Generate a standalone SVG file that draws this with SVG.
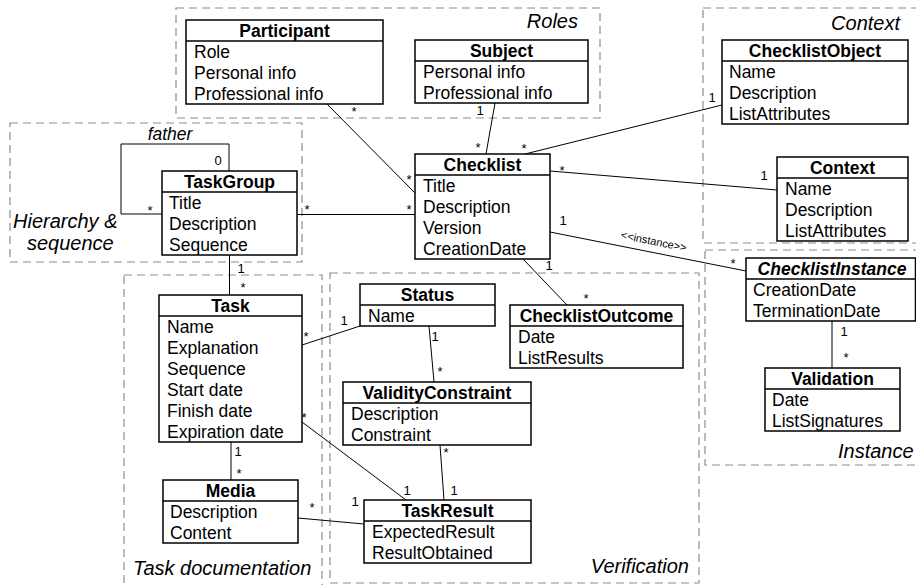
<svg xmlns="http://www.w3.org/2000/svg" width="916" height="585" viewBox="0 0 916 585">
<style>
.bg{fill:#fff}
.frame{fill:none;stroke:#8c8c8c;stroke-width:1.2;stroke-dasharray:8 5}
.gl{font-family:"Liberation Sans",Arial,sans-serif;font-size:20px;font-style:italic;fill:#000}
.box{fill:#fff;stroke:#000;stroke-width:1.5}
.hd{stroke:#000;stroke-width:1.5}
.tt{font-family:"Liberation Sans",Arial,sans-serif;font-size:17.5px;font-weight:bold;text-anchor:middle;fill:#000}
.at{font-family:"Liberation Sans",Arial,sans-serif;font-size:17.5px;fill:#000}
.c{fill:none;stroke:#000;stroke-width:1}
.m{font-family:"Liberation Sans",Arial,sans-serif;font-size:13px;text-anchor:middle;fill:#000}
.st{font-family:"Liberation Sans",Arial,sans-serif;font-size:11px;text-anchor:middle;fill:#000}
.fa{font-family:"Liberation Sans",Arial,sans-serif;font-size:17.5px;font-style:italic;text-anchor:middle;fill:#000}
</style>
<rect class="bg" x="0" y="0" width="916" height="585"/>

<g id="regions">
  <rect class="frame" x="176" y="8" width="424" height="110"/>
  <text class="gl" x="578" y="28" text-anchor="end">Roles</text>
  <rect class="frame" x="703" y="8" width="225" height="235"/>
  <text class="gl" x="900" y="30" text-anchor="end">Context</text>
  <rect class="frame" x="10" y="123" width="292" height="139"/>
  <text class="gl" x="13" y="228">Hierarchy &amp;</text>
  <text class="gl" x="27" y="250">sequence</text>
  <rect class="frame" x="705" y="250" width="225" height="215"/>
  <text class="gl" x="838" y="458">Instance</text>
  <rect class="frame" x="124" y="275" width="198" height="320"/>
  <text class="gl" x="133" y="575">Task documentation</text>
  <rect class="frame" x="330" y="273" width="369" height="310"/>
  <text class="gl" x="689" y="573" text-anchor="end">Verification</text>
</g>

<g id="connectors">
  <polyline class="c" points="229,171 229,144 121,144 121,214 162,214"/>
  <text class="fa" x="170" y="140">father</text>
  <text class="m" x="218" y="165">0</text>
  <text class="m" x="150" y="215">*</text>

  <line class="c" x1="297" y1="214.5" x2="415" y2="214.5"/>
  <text class="m" x="307" y="214">*</text>
  <text class="m" x="409" y="214">*</text>

  <line class="c" x1="327" y1="104" x2="415" y2="193"/>
  <text class="m" x="354" y="116">*</text>
  <text class="m" x="409" y="184">*</text>

  <line class="c" x1="495" y1="103" x2="486" y2="154"/>
  <text class="m" x="480" y="115">1</text>
  <text class="m" x="478" y="152">*</text>

  <line class="c" x1="525" y1="154" x2="722" y2="105"/>
  <text class="m" x="524" y="153">*</text>
  <text class="m" x="712" y="102">1</text>

  <line class="c" x1="550" y1="171" x2="777" y2="190"/>
  <text class="m" x="562" y="175">*</text>
  <text class="m" x="764" y="180">1</text>

  <line class="c" x1="550" y1="232" x2="746" y2="271"/>
  <text class="m" x="563" y="225">1</text>
  <text class="m" x="733" y="268">*</text>
  <text class="st" transform="translate(653,245) rotate(11.5)">&lt;&lt;instance&gt;&gt;</text>

  <line class="c" x1="523" y1="259" x2="567" y2="305"/>
  <text class="m" x="549" y="270">1</text>
  <text class="m" x="586" y="303">*</text>

  <line class="c" x1="229.5" y1="255" x2="229.5" y2="295"/>
  <text class="m" x="241" y="273">1</text>
  <text class="m" x="243" y="292">*</text>

  <line class="c" x1="231" y1="442" x2="231" y2="480"/>
  <text class="m" x="238" y="456">1</text>
  <text class="m" x="239" y="478">*</text>

  <line class="c" x1="302" y1="345" x2="360" y2="326"/>
  <text class="m" x="306" y="341">*</text>
  <text class="m" x="344" y="325">1</text>

  <line class="c" x1="302" y1="422" x2="406" y2="500"/>
  <text class="m" x="304" y="422">*</text>
  <text class="m" x="407" y="495">1</text>

  <line class="c" x1="429" y1="326" x2="434" y2="382"/>
  <text class="m" x="435" y="341">1</text>
  <text class="m" x="440" y="376">*</text>

  <line class="c" x1="440" y1="445" x2="444" y2="500"/>
  <text class="m" x="446" y="457">*</text>
  <text class="m" x="454" y="495">1</text>

  <line class="c" x1="298" y1="518" x2="364" y2="524"/>
  <text class="m" x="312" y="512">*</text>
  <text class="m" x="355" y="506">1</text>

  <line class="c" x1="832" y1="321" x2="832" y2="368"/>
  <text class="m" x="844" y="336">1</text>
  <text class="m" x="846" y="362">*</text>
</g>

<g id="participant">
  <rect class="box" x="186" y="20" width="197" height="84"/>
  <line class="hd" x1="186" y1="41" x2="383" y2="41"/>
  <text class="tt" x="284.5" y="36.5">Participant</text>
  <text class="at" x="194" y="58">Role</text>
  <text class="at" x="194" y="79">Personal info</text>
  <text class="at" x="194" y="100">Professional info</text>
</g>

<g id="subject">
  <rect class="box" x="415" y="40" width="173" height="63"/>
  <line class="hd" x1="415" y1="61" x2="588" y2="61"/>
  <text class="tt" x="501.5" y="56.5">Subject</text>
  <text class="at" x="423" y="77.5">Personal info</text>
  <text class="at" x="423" y="98.5">Professional info</text>
</g>

<g id="checklistobject">
  <rect class="box" x="722" y="40" width="186" height="84"/>
  <line class="hd" x1="722" y1="61" x2="908" y2="61"/>
  <text class="tt" x="815" y="56.5">ChecklistObject</text>
  <text class="at" x="729" y="77.5">Name</text>
  <text class="at" x="729" y="98.5">Description</text>
  <text class="at" x="729" y="119.5">ListAttributes</text>
</g>

<g id="checklist">
  <rect class="box" x="415" y="154" width="135" height="105"/>
  <line class="hd" x1="415" y1="175" x2="550" y2="175"/>
  <text class="tt" x="482.5" y="170.5">Checklist</text>
  <text class="at" x="423" y="191.5">Title</text>
  <text class="at" x="423" y="212.5">Description</text>
  <text class="at" x="423" y="233.5">Version</text>
  <text class="at" x="423" y="254.5">CreationDate</text>
</g>

<g id="context">
  <rect class="box" x="777" y="157" width="131" height="84"/>
  <line class="hd" x1="777" y1="178" x2="908" y2="178"/>
  <text class="tt" x="842.5" y="173.5">Context</text>
  <text class="at" x="785" y="194.5">Name</text>
  <text class="at" x="785" y="215.5">Description</text>
  <text class="at" x="785" y="236.5">ListAttributes</text>
</g>

<g id="taskgroup">
  <rect class="box" x="162" y="171" width="135" height="84"/>
  <line class="hd" x1="162" y1="192" x2="297" y2="192"/>
  <text class="tt" x="229.5" y="187.5">TaskGroup</text>
  <text class="at" x="169" y="208.5">Title</text>
  <text class="at" x="169" y="229.5">Description</text>
  <text class="at" x="169" y="250.5">Sequence</text>
</g>

<g id="checklistinstance">
  <rect class="box" x="746" y="258" width="169.5" height="63"/>
  <line class="hd" x1="746" y1="279" x2="915.5" y2="279"/>
  <text class="tt" x="832" y="274.5" font-style="italic">ChecklistInstance</text>
  <text class="at" x="753" y="295.5">CreationDate</text>
  <text class="at" x="753" y="316.5">TerminationDate</text>
</g>

<g id="status">
  <rect class="box" x="360" y="284" width="135" height="42"/>
  <line class="hd" x1="360" y1="305" x2="495" y2="305"/>
  <text class="tt" x="427.5" y="300.5">Status</text>
  <text class="at" x="368" y="321.5">Name</text>
</g>

<g id="task">
  <rect class="box" x="159" y="295" width="143" height="147"/>
  <line class="hd" x1="159" y1="316" x2="302" y2="316"/>
  <text class="tt" x="230.5" y="311.5">Task</text>
  <text class="at" x="167" y="332.5">Name</text>
  <text class="at" x="167" y="353.5">Explanation</text>
  <text class="at" x="167" y="374.5">Sequence</text>
  <text class="at" x="167" y="395.5">Start date</text>
  <text class="at" x="167" y="416.5">Finish date</text>
  <text class="at" x="167" y="437.5">Expiration date</text>
</g>

<g id="checklistoutcome">
  <rect class="box" x="510" y="305" width="173" height="63"/>
  <line class="hd" x1="510" y1="326" x2="683" y2="326"/>
  <text class="tt" x="596.5" y="321.5">ChecklistOutcome</text>
  <text class="at" x="518" y="342.5">Date</text>
  <text class="at" x="518" y="363.5">ListResults</text>
</g>

<g id="validation">
  <rect class="box" x="765" y="368" width="135" height="63"/>
  <line class="hd" x1="765" y1="389" x2="900" y2="389"/>
  <text class="tt" x="832.5" y="384.5">Validation</text>
  <text class="at" x="772" y="405.5">Date</text>
  <text class="at" x="772" y="426.5">ListSignatures</text>
</g>

<g id="validityconstraint">
  <rect class="box" x="343" y="382" width="188" height="63"/>
  <line class="hd" x1="343" y1="403" x2="531" y2="403"/>
  <text class="tt" x="437" y="398.5">ValidityConstraint</text>
  <text class="at" x="351" y="419.5">Description</text>
  <text class="at" x="351" y="440.5">Constraint</text>
</g>

<g id="media">
  <rect class="box" x="163" y="480" width="135" height="63"/>
  <line class="hd" x1="163" y1="501" x2="298" y2="501"/>
  <text class="tt" x="230.5" y="496.5">Media</text>
  <text class="at" x="170" y="517.5">Description</text>
  <text class="at" x="170" y="538.5">Content</text>
</g>

<g id="taskresult">
  <rect class="box" x="364" y="500" width="167" height="63"/>
  <line class="hd" x1="364" y1="521" x2="531" y2="521"/>
  <text class="tt" x="447.5" y="516.5">TaskResult</text>
  <text class="at" x="372" y="537.5">ExpectedResult</text>
  <text class="at" x="372" y="558.5">ResultObtained</text>
</g>
</svg>
